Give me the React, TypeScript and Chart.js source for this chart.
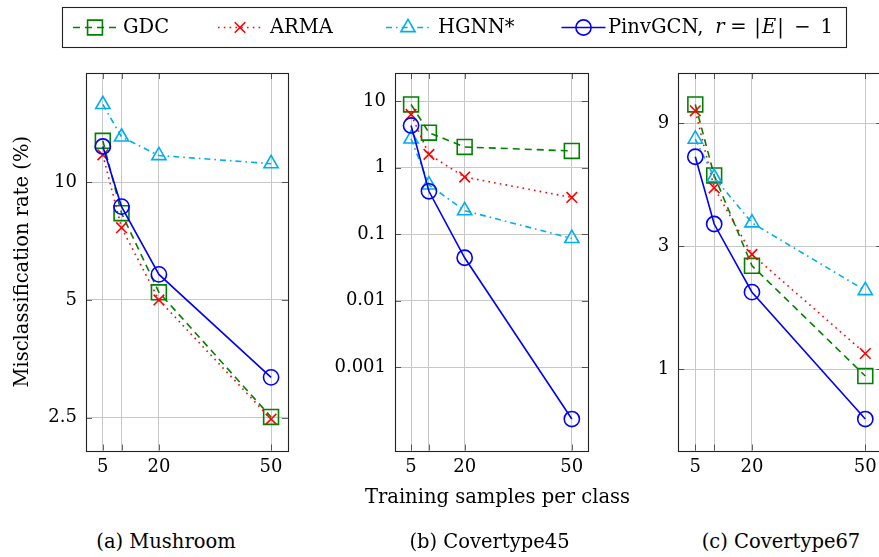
import React, { useEffect, useRef } from 'react';
import { Chart, registerables, PointElement } from 'chart.js';

Chart.register(...registerables);

// ---------------- data ----------------
const xValues = [5, 10, 20, 50];
const xTickValues = [5, 10, 20, 50];
const xTickLabels = ['5', '', '20', '50'];

const seriesNames = ['GDC', 'ARMA', 'HGNN*', 'PinvGCN, r = |E| − 1'];

// (a) Mushroom
const mushroomGDC = [12.76, 8.33, 5.23, 2.51];
const mushroomARMA = [11.75, 7.65, 5.0, 2.48];
const mushroomHGNN = [15.8, 13.05, 11.7, 11.15];
const mushroomPinvGCN = [12.34, 8.66, 5.81, 3.17];
const mushroomYTicks = [2.5, 5, 10];
const mushroomYTickLabels = ['2.5', '5', '10'];

// (b) Covertype45
const cov45GDC = [8.9, 3.35, 2.04, 1.78];
const cov45ARMA = [6.3, 1.58, 0.72, 0.355];
const cov45HGNN = [2.7, 0.55, 0.225, 0.086];
const cov45PinvGCN = [4.3, 0.44, 0.044, 0.000165];
const cov45YTicks = [0.001, 0.01, 0.1, 1, 10];
const cov45YTickLabels = ['0.001', '0.01', '0.1', '1', '10'];

// (c) Covertype67
const cov67GDC = [10.66, 5.65, 2.52, 0.94];
const cov67ARMA = [10.07, 5.06, 2.79, 1.15];
const cov67HGNN = [7.82, 5.55, 3.7, 2.02];
const cov67PinvGCN = [6.68, 3.66, 1.99, 0.64];
const cov67YTicks = [1, 3, 9];
const cov67YTickLabels = ['1', '3', '9'];

const yAxisTitle = 'Misclassification rate (%)';
const xAxisTitle = 'Training samples per class';
const captions = ['(a) Mushroom', '(b) Covertype45', '(c) Covertype67'];

// ---------------- styles / layout ----------------
const FONT = '"DejaVu Serif", serif';
const FS_TICK = 18;
const FS_TEXT = 19.5;
const LW = 1.6;

const STYLES = [
  { color: 'rgb(0,128,0)', dash: [7, 5], pointStyle: 'rect', radius: 10.5 },
  { color: 'rgb(255,0,0)', dash: [1.6, 4.2], pointStyle: 'crossRot', radius: 7.5 },
  { color: 'rgb(0,174,239)', dash: [6, 4, 1.6, 4], pointStyle: 'triangle', radius: 8.2 },
  { color: 'rgb(0,0,255)', dash: [], pointStyle: 'circle', radius: 7.6 },
];

const PANEL_TOP = 60;
const PANEL_H = 460;
const TOP_PAD = 13; // chart area top at 73
const X_AXIS_H = 69.5; // chart area bottom at 450.5
const GRID = '#c8c8c8';

const PANELS = [
  {
    key: 'a', left: 0, width: 300, yWidth: 86, padRight: 10,
    series: [mushroomGDC, mushroomARMA, mushroomHGNN, mushroomPinvGCN],
    yTicks: mushroomYTicks, yTickLabels: mushroomYTickLabels, yTitle: true,
  },
  {
    key: 'b', left: 300, width: 300, yWidth: 95, padRight: 1,
    series: [cov45GDC, cov45ARMA, cov45HGNN, cov45PinvGCN],
    yTicks: cov45YTicks, yTickLabels: cov45YTickLabels, yTitle: false,
  },
  {
    key: 'c', left: 600, width: 300, yWidth: 78.3, padRight: 17.7,
    series: [cov67GDC, cov67ARMA, cov67HGNN, cov67PinvGCN],
    yTicks: cov67YTicks, yTickLabels: cov67YTickLabels, yTitle: false,
  },
];

const CAPTION_X = [166, 489.5, 781];
const CAPTION_Y = 541.7;
const XTITLE_X = 497.5;
const XTITLE_Y = 496.7;

// legend layout (page coords)
const LEGEND_BOX = { left: 62.5, top: 7.5, right: 846.5, bottom: 47.5 };
const LEGEND_Y = 27.5;
const LEGEND_MARK_X = [95, 240, 408, 583.5];
const LEGEND_HALF = 22;
const LEGEND_TEXT_PARTS = [
  [{ t: 'GDC', x: 123, it: false, c: false }],
  [{ t: 'ARMA', x: 270, it: false, c: false }],
  [{ t: 'HGNN*', x: 438, it: false, c: false }],
  [
    { t: 'PinvGCN,', x: 608, it: false, c: false },
    { t: 'r', x: 720, it: true, c: true },
    { t: '=', x: 738.3, it: false, c: true },
    { t: '|', x: 757.5, it: false, c: true },
    { t: 'E', x: 769, it: true, c: true },
    { t: '|', x: 780.5, it: false, c: true },
    { t: '−', x: 802.3, it: false, c: true },
    { t: '1', x: 826.7, it: false, c: true },
  ],
];

function enlarge(values: number[], log: boolean) {
  const vs = log ? values.map((v) => Math.log10(v)) : values;
  const lo = Math.min(...vs);
  const hi = Math.max(...vs);
  const pad = 0.1 * (hi - lo);
  return log
    ? { min: Math.pow(10, lo - pad), max: Math.pow(10, hi + pad) }
    : { min: lo - pad, max: hi + pad };
}

const framePlugin = {
  id: 'pgfFrame',
  beforeDatasetsDraw(chart: any) {
    const { ctx, chartArea: a, scales } = chart;
    const L = 6;
    ctx.save();
    ctx.strokeStyle = 'rgba(0,0,0,0.6)';
    ctx.lineWidth = 1;
    ctx.beginPath();
    scales.x.ticks.forEach((t: any) => {
      const px = Math.round(scales.x.getPixelForValue(t.value)) + 0.5;
      ctx.moveTo(px, a.bottom); ctx.lineTo(px, a.bottom - L);
      ctx.moveTo(px, a.top); ctx.lineTo(px, a.top + L);
    });
    scales.y.ticks.forEach((t: any) => {
      const py = Math.round(scales.y.getPixelForValue(t.value)) + 0.5;
      ctx.moveTo(a.left, py); ctx.lineTo(a.left + L, py);
      ctx.moveTo(a.right, py); ctx.lineTo(a.right - L, py);
    });
    ctx.stroke();
    ctx.strokeStyle = '#222';
    ctx.lineWidth = 1.1;
    ctx.strokeRect(Math.round(a.left) + 0.5, Math.round(a.top) + 0.5,
      Math.round(a.right - a.left), Math.round(a.bottom - a.top));
    ctx.restore();
  },
};

function PanelChart({ panel }: { panel: any }) {
  const ref = useRef<HTMLCanvasElement>(null);
  useEffect(() => {
    const yr = enlarge(panel.series.flat(), true);
    const xr = enlarge(xValues, false);
    const tickFont = { family: FONT, size: FS_TICK };
    const textFont = { family: FONT, size: FS_TEXT };
    const chart = new Chart(ref.current as HTMLCanvasElement, {
      type: 'line',
      data: {
        datasets: panel.series.map((vals: number[], i: number) => ({
          label: seriesNames[i],
          data: xValues.map((x, j) => ({ x, y: vals[j] })),
          borderColor: STYLES[i].color,
          backgroundColor: 'transparent',
          borderDash: STYLES[i].dash,
          borderWidth: LW,
          pointStyle: STYLES[i].pointStyle,
          pointRadius: STYLES[i].radius,
          pointBorderWidth: LW,
          pointBorderColor: STYLES[i].color,
          pointBackgroundColor: 'transparent',
          tension: 0,
          fill: false,
          order: 3 - i,
        })),
      },
      options: {
        responsive: false,
        maintainAspectRatio: false,
        animation: false,
        events: [],
        layout: { padding: { top: TOP_PAD, right: panel.padRight, left: 0, bottom: 0 } },
        plugins: { legend: { display: false }, tooltip: { enabled: false } },
        scales: {
          x: {
            type: 'linear',
            min: xr.min,
            max: xr.max,
            afterBuildTicks: (s: any) => { s.ticks = xTickValues.map((v) => ({ value: v })); },
            afterFit: (s: any) => { s.height = X_AXIS_H; s.paddingLeft = 0; s.paddingRight = 0; },
            ticks: {
              autoSkip: false, maxRotation: 0, minRotation: 0, padding: 6,
              color: '#000', font: tickFont,
              callback: (v: any) => { const k = xTickValues.indexOf(Number(v)); return k >= 0 ? xTickLabels[k] : ''; },
            },
            grid: { color: GRID, lineWidth: 1, drawTicks: false },
            border: { display: false },
          },
          y: {
            type: 'logarithmic',
            min: yr.min,
            max: yr.max,
            afterBuildTicks: (s: any) => { s.ticks = panel.yTicks.map((v: number) => ({ value: v })); },
            afterFit: (s: any) => { s.width = panel.yWidth; s.paddingTop = 0; s.paddingBottom = 0; },
            ticks: {
              autoSkip: false, padding: 9, color: '#000', font: tickFont,
              callback: (v: any) => {
                const k = panel.yTicks.findIndex((t: number) => Math.abs(t - Number(v)) < 1e-9 * Math.max(1, t));
                return k >= 0 ? panel.yTickLabels[k] : '';
              },
            },
            grid: { color: GRID, lineWidth: 1, drawTicks: false },
            border: { display: false },
            title: {
              display: panel.yTitle, text: yAxisTitle, color: '#000', font: textFont,
              padding: { top: 10.8, bottom: 0 },
            },
          },
        },
      } as any,
      plugins: [framePlugin],
    });
    return () => chart.destroy();
  }, [panel]);
  return (
    <canvas
      ref={ref}
      width={panel.width}
      height={PANEL_H}
      style={{ position: 'absolute', left: panel.left, top: PANEL_TOP, width: panel.width, height: PANEL_H }}
    />
  );
}

const legendPlugin = {
  id: 'pgfLegend',
  afterDraw(chart: any) {
    const { ctx } = chart;
    const area = { left: -1000, top: -1000, right: 5000, bottom: 5000 };
    ctx.save();
    ctx.fillStyle = '#fff';
    ctx.fillRect(LEGEND_BOX.left, LEGEND_BOX.top, LEGEND_BOX.right - LEGEND_BOX.left, LEGEND_BOX.bottom - LEGEND_BOX.top);
    ctx.strokeStyle = '#222';
    ctx.lineWidth = 1.1;
    ctx.strokeRect(LEGEND_BOX.left, LEGEND_BOX.top, LEGEND_BOX.right - LEGEND_BOX.left, LEGEND_BOX.bottom - LEGEND_BOX.top);
    chart.data.datasets.forEach((ds: any, i: number) => {
      const cx = LEGEND_MARK_X[i];
      ctx.save();
      ctx.strokeStyle = ds.borderColor;
      ctx.lineWidth = ds.borderWidth;
      ctx.setLineDash(ds.borderDash || []);
      ctx.beginPath();
      ctx.moveTo(cx - LEGEND_HALF, LEGEND_Y);
      ctx.lineTo(cx + LEGEND_HALF, LEGEND_Y);
      ctx.stroke();
      ctx.restore();
      const pt: any = new (PointElement as any)({
        x: cx, y: LEGEND_Y,
        options: {
          pointStyle: ds.pointStyle, radius: ds.pointRadius, rotation: 0,
          borderWidth: ds.pointBorderWidth, borderColor: ds.pointBorderColor,
          backgroundColor: 'transparent', hitRadius: 0, hoverRadius: 0,
        },
      });
      pt.draw(ctx, area);
      ctx.fillStyle = '#000';
      ctx.textBaseline = 'middle';
      LEGEND_TEXT_PARTS[i].forEach((p) => {
        ctx.font = `${p.it ? 'italic ' : ''}${FS_TEXT}px ${FONT}`;
        ctx.textAlign = p.c ? 'center' : 'left';
        ctx.fillText(p.t, p.x, LEGEND_Y);
      });
    });
    ctx.restore();
  },
};

function LegendCanvas() {
  const ref = useRef<HTMLCanvasElement>(null);
  useEffect(() => {
    const chart = new Chart(ref.current as HTMLCanvasElement, {
      type: 'line',
      data: {
        datasets: seriesNames.map((name, i) => ({
          label: name,
          data: [],
          borderColor: STYLES[i].color,
          borderDash: STYLES[i].dash,
          borderWidth: LW,
          pointStyle: STYLES[i].pointStyle,
          pointRadius: STYLES[i].radius,
          pointBorderWidth: LW,
          pointBorderColor: STYLES[i].color,
        })),
      },
      options: {
        responsive: false,
        maintainAspectRatio: false,
        animation: false,
        events: [],
        plugins: { legend: { display: false }, tooltip: { enabled: false } },
        scales: { x: { display: false }, y: { display: false } },
      } as any,
      plugins: [legendPlugin],
    });
    return () => chart.destroy();
  }, []);
  return (
    <canvas
      ref={ref}
      width={879}
      height={58}
      style={{ position: 'absolute', left: 0, top: 0, width: 879, height: 58 }}
    />
  );
}

const textStyle = (x: number, y: number): React.CSSProperties => ({
  position: 'absolute', left: x, top: y,
  transform: 'translate(-50%, -50%)', fontFamily: FONT, fontSize: FS_TEXT,
  lineHeight: 1, whiteSpace: 'nowrap', color: '#000',
});

export default function App() {
  return (
    <div
      style={{
        position: 'fixed', left: 0, top: 0, width: 879, height: 557,
        overflow: 'hidden', background: '#fff',
      }}
    >
      <LegendCanvas />
      {PANELS.map((p) => (
        <PanelChart key={p.key} panel={p} />
      ))}
      <div style={textStyle(XTITLE_X, XTITLE_Y)}>{xAxisTitle}</div>
      {captions.map((c, i) => (
        <div key={c} style={textStyle(CAPTION_X[i], CAPTION_Y)}>
          {c}
        </div>
      ))}
    </div>
  );
}
